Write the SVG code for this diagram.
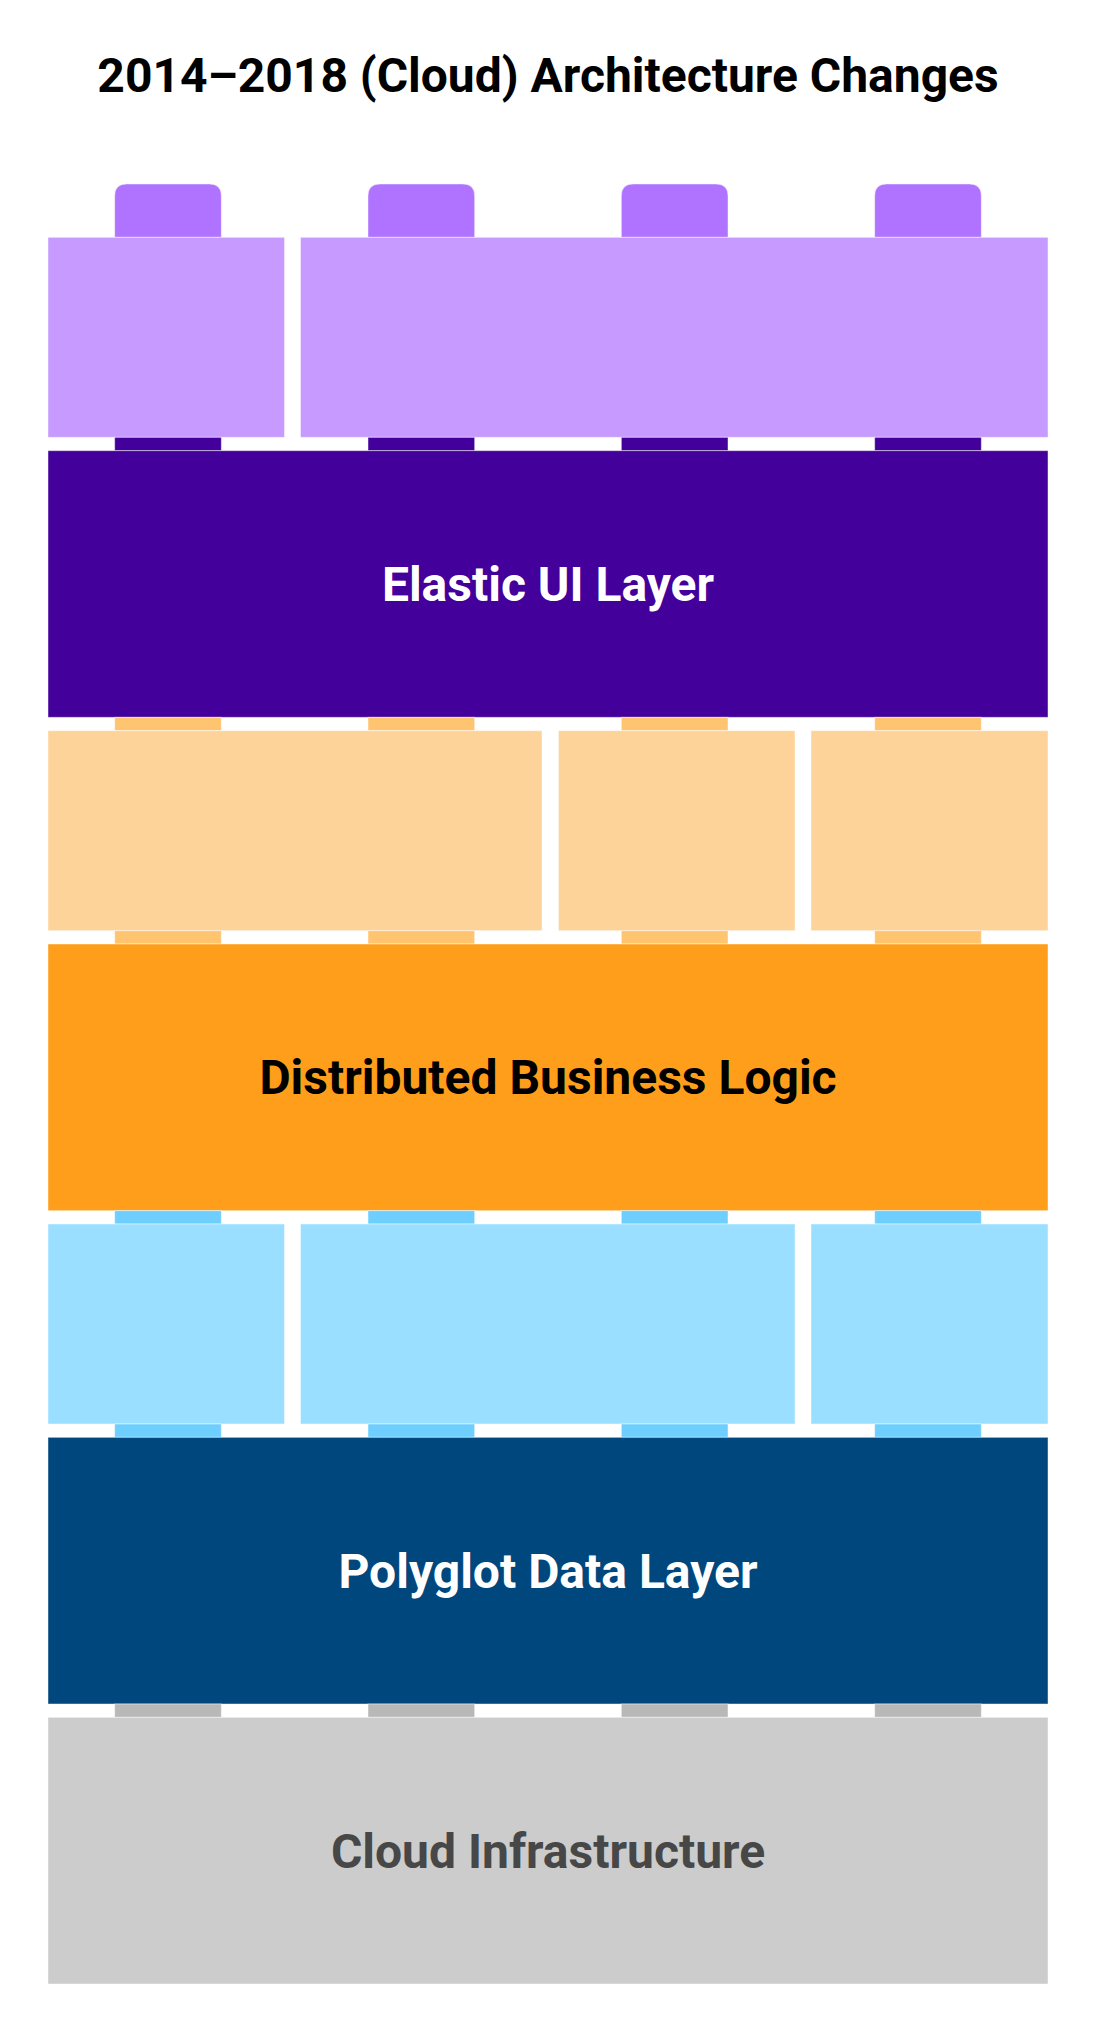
<svg xmlns="http://www.w3.org/2000/svg" width="1096" height="2032" viewBox="0 0 1096 2032">
<style>
  .edge { stroke: #ffffff; stroke-opacity: 0.45; stroke-width: 1; }
  .lbl { font-family: Roboto, "Liberation Sans", sans-serif; font-weight: 700; font-size: 48px; text-anchor: middle; }
  .studTop { fill: #AF73FF; }
  .lp { fill: #C69AFE; }
  .dp { fill: #43009A; }
  .os { fill: #FFC470; }
  .lo { fill: #FDD399; }
  .or { fill: #FF9E1A; }
  .bs { fill: #6ECFFF; }
  .lb { fill: #9ADFFF; }
  .db { fill: #00477D; }
  .gs { fill: #B8B8B8; }
  .gr { fill: #CCCCCC; }
</style>
<rect x="0" y="0" width="1096" height="2032" fill="#ffffff"/>
<text id="title" class="lbl" x="548" y="92" fill="#000000">2014–2018 (Cloud) Architecture Changes</text>

<g id="top-studs" class="edge">
  <path class="studTop" d="M114.67,237.33 V196 Q114.67,184 126.67,184 H209.33 Q221.33,184 221.33,196 V237.33 Z"/>
  <path class="studTop" d="M368,237.33 V196 Q368,184 380,184 H462.67 Q474.67,184 474.67,196 V237.33 Z"/>
  <path class="studTop" d="M621.33,237.33 V196 Q621.33,184 633.33,184 H716 Q728,184 728,196 V237.33 Z"/>
  <path class="studTop" d="M874.67,237.33 V196 Q874.67,184 886.67,184 H969.33 Q981.33,184 981.33,196 V237.33 Z"/>
</g>

<g id="ui-bricks" class="edge">
  <rect class="lp" x="48" y="237.33" width="236.5" height="200"/>
  <rect class="lp" x="300.5" y="237.33" width="747.5" height="200"/>
</g>

<g id="ui-studs" class="edge">
  <rect class="dp" x="114.67" y="437.33" width="106.67" height="13.33"/>
  <rect class="dp" x="368" y="437.33" width="106.67" height="13.33"/>
  <rect class="dp" x="621.33" y="437.33" width="106.67" height="13.33"/>
  <rect class="dp" x="874.67" y="437.33" width="106.67" height="13.33"/>
</g>

<g id="elastic-ui-layer">
  <rect class="dp edge" x="48" y="450.67" width="1000" height="266.67"/>
  <text class="lbl" x="548" y="601" fill="#ffffff">Elastic UI Layer</text>
</g>

<g id="logic-studs-top" class="edge">
  <rect class="os" x="114.67" y="717.33" width="106.67" height="13.33"/>
  <rect class="os" x="368" y="717.33" width="106.67" height="13.33"/>
  <rect class="os" x="621.33" y="717.33" width="106.67" height="13.33"/>
  <rect class="os" x="874.67" y="717.33" width="106.67" height="13.33"/>
</g>

<g id="logic-bricks" class="edge">
  <rect class="lo" x="48" y="730.67" width="494" height="200"/>
  <rect class="lo" x="558.5" y="730.67" width="236.5" height="200"/>
  <rect class="lo" x="811" y="730.67" width="237" height="200"/>
</g>

<g id="logic-studs-bottom" class="edge">
  <rect class="os" x="114.67" y="930.67" width="106.67" height="13.33"/>
  <rect class="os" x="368" y="930.67" width="106.67" height="13.33"/>
  <rect class="os" x="621.33" y="930.67" width="106.67" height="13.33"/>
  <rect class="os" x="874.67" y="930.67" width="106.67" height="13.33"/>
</g>

<g id="distributed-business-logic">
  <rect class="or edge" x="48" y="944" width="1000" height="266.67"/>
  <text class="lbl" x="548" y="1094.3" fill="#000000">Distributed Business Logic</text>
</g>

<g id="data-studs-top" class="edge">
  <rect class="bs" x="114.67" y="1210.67" width="106.67" height="13.33"/>
  <rect class="bs" x="368" y="1210.67" width="106.67" height="13.33"/>
  <rect class="bs" x="621.33" y="1210.67" width="106.67" height="13.33"/>
  <rect class="bs" x="874.67" y="1210.67" width="106.67" height="13.33"/>
</g>

<g id="data-bricks" class="edge">
  <rect class="lb" x="48" y="1224" width="236.5" height="200"/>
  <rect class="lb" x="300.5" y="1224" width="494.5" height="200"/>
  <rect class="lb" x="811" y="1224" width="237" height="200"/>
</g>

<g id="data-studs-bottom" class="edge">
  <rect class="bs" x="114.67" y="1424" width="106.67" height="13.33"/>
  <rect class="bs" x="368" y="1424" width="106.67" height="13.33"/>
  <rect class="bs" x="621.33" y="1424" width="106.67" height="13.33"/>
  <rect class="bs" x="874.67" y="1424" width="106.67" height="13.33"/>
</g>

<g id="polyglot-data-layer">
  <rect class="db edge" x="48" y="1437.33" width="1000" height="266.67"/>
  <text class="lbl" x="548" y="1587.7" fill="#ffffff">Polyglot Data Layer</text>
</g>

<g id="infra-studs" class="edge">
  <rect class="gs" x="114.67" y="1704" width="106.67" height="13.33"/>
  <rect class="gs" x="368" y="1704" width="106.67" height="13.33"/>
  <rect class="gs" x="621.33" y="1704" width="106.67" height="13.33"/>
  <rect class="gs" x="874.67" y="1704" width="106.67" height="13.33"/>
</g>

<g id="cloud-infrastructure">
  <rect class="gr edge" x="48" y="1717.33" width="1000" height="266.67"/>
  <text class="lbl" x="548" y="1867.5" fill="#474747">Cloud Infrastructure</text>
</g>
</svg>
